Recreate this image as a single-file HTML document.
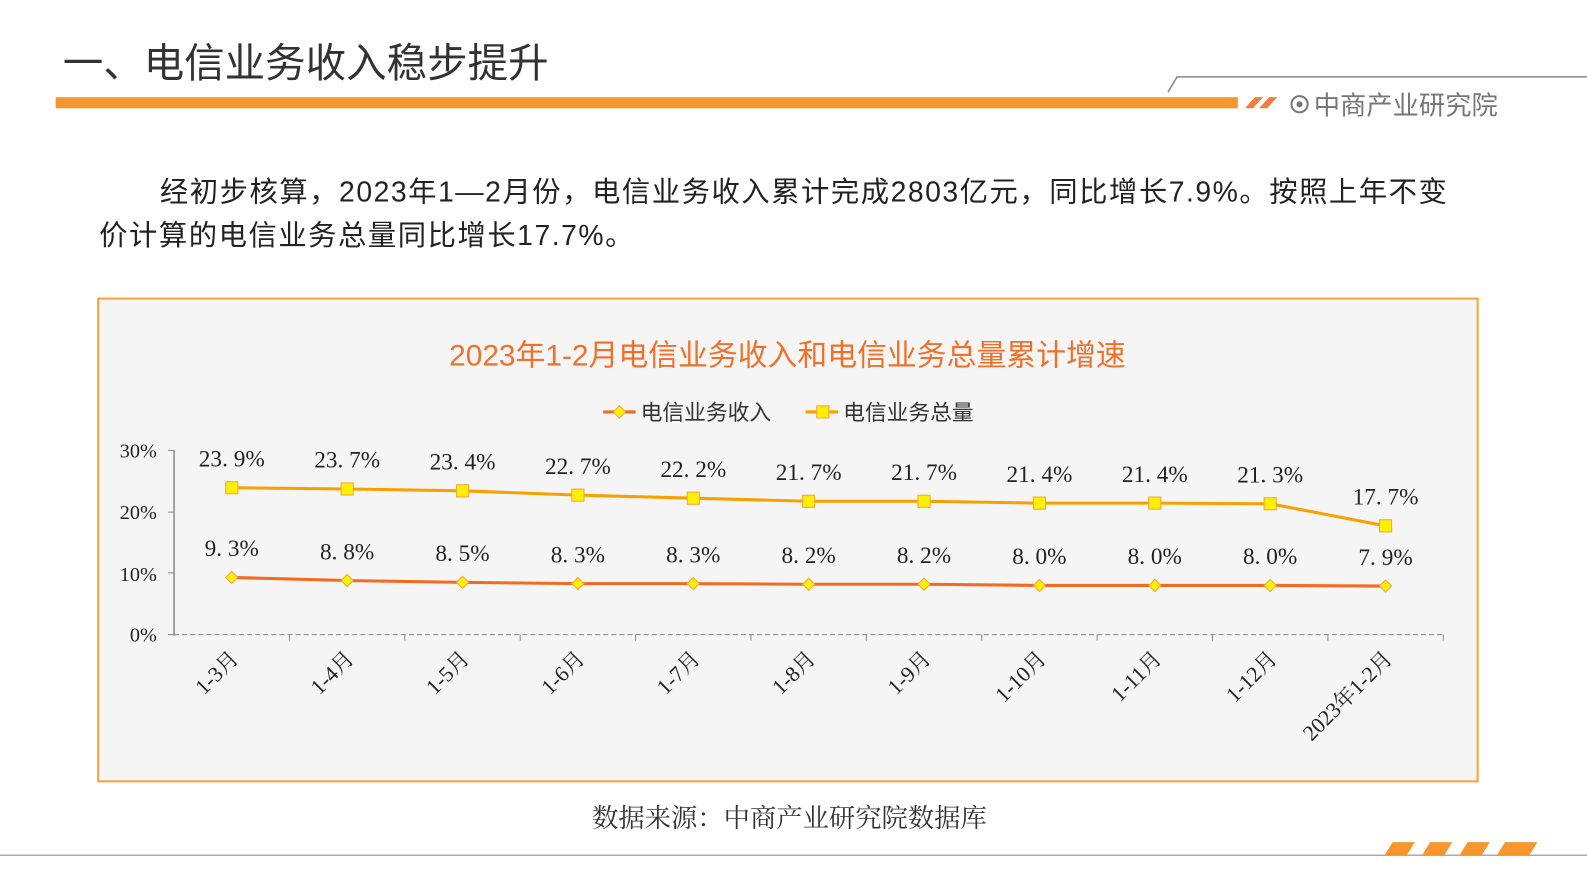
<!DOCTYPE html>
<html><head><meta charset="utf-8"><style>
body{margin:0;width:1587px;height:892px;background:#fff;overflow:hidden;position:relative;font-family:"Liberation Sans","Noto Sans CJK SC",sans-serif}
#w{position:absolute;left:0;top:0;width:1568px;height:882px;transform:scale(1.0121);transform-origin:0 0}
.t{position:absolute}
</style></head><body><div id="w">
<div class="t" style="left:62px;top:30px;font-size:40px;color:#333">一、电信业务收入稳步提升</div>
<svg class="t" style="left:0;top:0" width="1568" height="882">
<rect x="55" y="96" width="1168" height="11" fill="#f7952e"/>
<polygon points="1230,107 1240,96 1248,96 1238,107" fill="#f47c3c"/>
<polygon points="1244,107 1254,96 1262,96 1252,107" fill="#f47c3c"/>
<polyline points="1154,91 1163,76 1568,76" fill="none" stroke="#888" stroke-width="1.5"/>
<circle cx="1284" cy="103" r="8" fill="none" stroke="#777" stroke-width="2"/><circle cx="1284" cy="103" r="3" fill="#777"/>
<text x="1298" y="113" font-size="26" fill="#777" font-family="Liberation Sans,Noto Sans CJK SC,sans-serif">中商产业研究院</text>
<line x1="0" y1="845" x2="1568" y2="845" stroke="#aaa" stroke-width="1.5"/>
<g fill="#f7952e"><polygon points="1368,845 1376,832 1398,832 1390,845"/><polygon points="1405,845 1413,832 1435,832 1427,845"/><polygon points="1442,845 1450,832 1472,832 1464,845"/><polygon points="1479,845 1487,832 1519,832 1511,845"/></g>
<rect x="97" y="295" width="1363" height="477" fill="#f5f5f5" stroke="#f7a23a" stroke-width="2"/>
<text x="778" y="361" font-size="29.5" fill="#f0702a" text-anchor="middle" font-family="Liberation Sans,Noto Sans CJK SC,sans-serif">2023年1-2月电信业务收入和电信业务总量累计增速</text>
<line x1="596" y1="407" x2="628" y2="407" stroke="#f26b21" stroke-width="3"/><polygon points="612,401 618,407 612,413 606,407" fill="#ffef00" stroke="#f7a23a"/>
<text x="633" y="415" font-size="21.5" fill="#333" font-family="Liberation Sans,Noto Sans CJK SC,sans-serif">电信业务收入</text>
<line x1="796" y1="407" x2="828" y2="407" stroke="#f7a000" stroke-width="3"/><rect x="807" y="401" width="12" height="12" fill="#ffef00" stroke="#f7a23a"/>
<text x="833" y="415" font-size="21.5" fill="#333" font-family="Liberation Sans,Noto Sans CJK SC,sans-serif">电信业务总量</text>
<g font-family="Liberation Serif,Noto Serif CJK SC,serif" font-size="20" fill="#222" text-anchor="end">
<text x="155" y="452">30%</text><text x="155" y="513">20%</text><text x="155" y="574">10%</text><text x="155" y="634">0%</text></g>
<line x1="172" y1="445" x2="172" y2="628" stroke="#888" stroke-width="1.5"/>
<g stroke="#888"><line x1="166" y1="445" x2="172" y2="445"/><line x1="166" y1="506" x2="172" y2="506"/><line x1="166" y1="566" x2="172" y2="566"/><line x1="166" y1="627" x2="172" y2="627"/></g>
<line x1="172" y1="627" x2="1425" y2="627" stroke="#888" stroke-dasharray="5,3"/>
<g id="g"></g>
</svg>
<div class="t" style="left:98px;top:168px;width:1342px;font-size:28px;line-height:43px;color:#222;text-indent:60px;letter-spacing:1.5px">经初步核算，2023年1—2月份，电信业务收入累计完成2803亿元，同比增长7.9%。按照上年不变价计算的电信业务总量同比增长17.7%。</div>
<div class="t" style="left:0;width:1560px;top:788px;text-align:center;font-size:26px;color:#333;font-family:'Liberation Serif','Noto Serif CJK SC',serif">数据来源：中商产业研究院数据库</div>
</div>
<script>
var a=[9.3,8.8,8.5,8.3,8.3,8.2,8.2,8.0,8.0,8.0,7.9],b=[23.9,23.7,23.4,22.7,22.2,21.7,21.7,21.4,21.4,21.3,17.7];
var l=["1-3月","1-4月","1-5月","1-6月","1-7月","1-8月","1-9月","1-10月","1-11月","1-12月","2023年1-2月"];
var s="",X=i=>229+114*i,Y=v=>627-v*6.07,pa=[],pb=[];
for(var i=0;i<11;i++){pa.push(X(i)+","+Y(a[i]));pb.push(X(i)+","+Y(b[i]));}
s+='<polyline points="'+pb.join(" ")+'" fill="none" stroke="#f7a000" stroke-width="3"/>';
s+='<polyline points="'+pa.join(" ")+'" fill="none" stroke="#f26b21" stroke-width="3"/>';
for(i=0;i<11;i++){var x=X(i),ya=Y(a[i]),yb=Y(b[i]);
s+='<line x1="'+(x+57)+'" y1="627" x2="'+(x+57)+'" y2="633" stroke="#888"/>';
s+='<rect x="'+(x-6)+'" y="'+(yb-6)+'" width="12" height="12" fill="#ffef00" stroke="#f7a23a"/>';
s+='<polygon points="'+x+','+(ya-6)+' '+(x+6)+','+ya+' '+x+','+(ya+6)+' '+(x-6)+','+ya+'" fill="#ffef00" stroke="#f7a23a"/>';
s+='<text x="'+x+'" y="'+(yb-21)+'" font-size="23" text-anchor="middle" font-family="Liberation Serif,Noto Serif CJK SC,serif" fill="#222">'+b[i].toFixed(1).replace(".",". ")+'%</text>';
s+='<text x="'+x+'" y="'+(ya-21)+'" font-size="23" text-anchor="middle" font-family="Liberation Serif,Noto Serif CJK SC,serif" fill="#222">'+a[i].toFixed(1).replace(".",". ")+'%</text>';
s+='<text transform="translate('+(x+8)+',652) rotate(-45)" font-size="21.5" text-anchor="end" font-family="Liberation Serif,Noto Serif CJK SC,serif" fill="#222">'+l[i]+'</text>';}
document.getElementById("g").innerHTML=s;
</script>
</body></html>
